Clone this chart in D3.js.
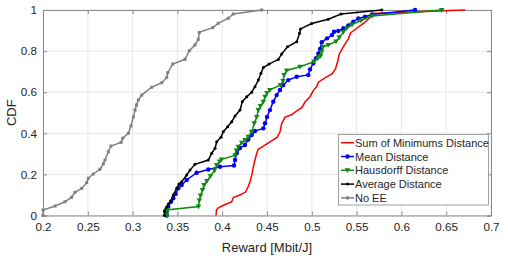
<!DOCTYPE html>
<html>
<head>
<meta charset="utf-8">
<script src="https://cdn.jsdelivr.net/npm/d3@7"></script>
<style>
  body { margin: 0; background: #fff; }
  text { font-family: "Liberation Sans", Arial, sans-serif; fill: #262626; }
</style>
</head>
<body>
<script>
const width = 508, height = 258

// one pair of arrays per curve
const sumMinX = [0.3931, 0.3936, 0.3953, 0.4020, 0.4104, 0.4126, 0.4199, 0.4260, 0.4294, 0.4316, 0.4333, 0.4350, 0.4366, 0.4383, 0.4400, 0.4455, 0.4533, 0.4612, 0.4645, 0.4662, 0.4701, 0.4768, 0.4832, 0.4891, 0.4924, 0.4980, 0.5017, 0.5058, 0.5075, 0.5158, 0.5225, 0.5265, 0.5287, 0.5307, 0.5331, 0.5371, 0.5410, 0.5432, 0.5499, 0.5583, 0.5644, 0.5667, 0.6710]
const sumMinY = [0, 0.027, 0.036, 0.051, 0.066, 0.088, 0.100, 0.114, 0.144, 0.173, 0.202, 0.241, 0.270, 0.299, 0.321, 0.336, 0.358, 0.380, 0.406, 0.445, 0.479, 0.489, 0.509, 0.526, 0.552, 0.578, 0.608, 0.630, 0.650, 0.672, 0.689, 0.715, 0.747, 0.786, 0.805, 0.835, 0.861, 0.888, 0.910, 0.937, 0.961, 0.983, 1.0]

const meanX = [0.3381, 0.3381, 0.3398, 0.3429, 0.3454, 0.3481, 0.3510, 0.3548, 0.3604, 0.3715, 0.3845, 0.3975, 0.4132, 0.4143, 0.4162, 0.4199, 0.4254, 0.4291, 0.4329, 0.4366, 0.4459, 0.4478, 0.4500, 0.4533, 0.4570, 0.4608, 0.4645, 0.4682, 0.4738, 0.4831, 0.4961, 0.4980, 0.5017, 0.5047, 0.5073, 0.5092, 0.5111, 0.5170, 0.5225, 0.5248, 0.5296, 0.5352, 0.5407, 0.5463, 0.5519, 0.5594, 0.5672, 0.6152]
const meanY = [0, 0.018, 0.043, 0.067, 0.084, 0.105, 0.132, 0.148, 0.173, 0.208, 0.224, 0.237, 0.243, 0.270, 0.303, 0.328, 0.343, 0.370, 0.392, 0.411, 0.424, 0.449, 0.479, 0.513, 0.554, 0.586, 0.611, 0.635, 0.659, 0.675, 0.684, 0.711, 0.741, 0.765, 0.789, 0.810, 0.843, 0.862, 0.878, 0.894, 0.898, 0.911, 0.925, 0.943, 0.959, 0.967, 0.978, 1.0]

const hausX = [0.3381, 0.3381, 0.3735, 0.3744, 0.3758, 0.3780, 0.3797, 0.3830, 0.3869, 0.3914, 0.3939, 0.3970, 0.3992, 0.4143, 0.4159, 0.4180, 0.4218, 0.4254, 0.4291, 0.4329, 0.4358, 0.4385, 0.4403, 0.4427, 0.4459, 0.4478, 0.4500, 0.4533, 0.4651, 0.4679, 0.4690, 0.4720, 0.4868, 0.5025, 0.5069, 0.5097, 0.5111, 0.5125, 0.5184, 0.5270, 0.5307, 0.5352, 0.5389, 0.5449, 0.5549, 0.5672, 0.6450]
const hausY = [0, 0.027, 0.044, 0.073, 0.097, 0.124, 0.148, 0.168, 0.192, 0.219, 0.246, 0.263, 0.273, 0.292, 0.316, 0.335, 0.354, 0.367, 0.383, 0.408, 0.449, 0.479, 0.513, 0.533, 0.554, 0.578, 0.596, 0.611, 0.635, 0.655, 0.684, 0.706, 0.724, 0.749, 0.765, 0.776, 0.797, 0.821, 0.830, 0.847, 0.867, 0.893, 0.911, 0.929, 0.949, 0.971, 1.0]

const avgX = [0.3354, 0.3354, 0.3378, 0.3398, 0.3429, 0.3454, 0.3492, 0.3518, 0.3548, 0.3604, 0.3641, 0.3696, 0.3845, 0.3883, 0.3920, 0.3939, 0.3987, 0.4012, 0.4061, 0.4106, 0.4143, 0.4199, 0.4224, 0.4274, 0.4329, 0.4366, 0.4403, 0.4433, 0.4459, 0.4522, 0.4626, 0.4664, 0.4729, 0.4832, 0.4863, 0.4874, 0.4999, 0.5184, 0.5326, 0.5780]
const avgY = [0, 0.022, 0.040, 0.056, 0.072, 0.100, 0.132, 0.153, 0.164, 0.197, 0.221, 0.249, 0.270, 0.303, 0.327, 0.359, 0.381, 0.408, 0.432, 0.456, 0.484, 0.513, 0.554, 0.578, 0.600, 0.627, 0.659, 0.692, 0.720, 0.737, 0.759, 0.786, 0.821, 0.846, 0.887, 0.908, 0.934, 0.955, 0.980, 1.0]

const noEeX = [0.200, 0.200, 0.2134, 0.2246, 0.2320, 0.2357, 0.2432, 0.2488, 0.2506, 0.2561, 0.2636, 0.2673, 0.2692, 0.2729, 0.2759, 0.2871, 0.2890, 0.2952, 0.2982, 0.3008, 0.3027, 0.3044, 0.3064, 0.3102, 0.3213, 0.3325, 0.3381, 0.3392, 0.3448, 0.3585, 0.3633, 0.3696, 0.3733, 0.3744, 0.3894, 0.3956, 0.4068, 0.4124, 0.4441]
const noEeY = [0, 0.027, 0.046, 0.067, 0.089, 0.113, 0.132, 0.160, 0.181, 0.202, 0.225, 0.251, 0.270, 0.310, 0.338, 0.356, 0.376, 0.400, 0.436, 0.479, 0.513, 0.538, 0.562, 0.586, 0.624, 0.646, 0.672, 0.695, 0.737, 0.760, 0.802, 0.830, 0.857, 0.891, 0.914, 0.935, 0.960, 0.981, 1.0]

const xTicks = [0.2, 0.25, 0.3, 0.35, 0.4, 0.45, 0.5, 0.55, 0.6, 0.65, 0.7]
const yTicks = [0, 0.2, 0.4, 0.6, 0.8, 1]

const series = [
  { name: 'Sum of Minimums Distance', xs: sumMinX, ys: sumMinY, color: '#ff0000', marker: 'none' },
  { name: 'Mean Distance', xs: meanX, ys: meanY, color: '#0000ff', marker: 'circle' },
  { name: 'Hausdorff Distance', xs: hausX, ys: hausY, color: '#108a10', marker: 'tri' },
  { name: 'Average Distance', xs: avgX, ys: avgY, color: '#000000', marker: 'dot' },
  { name: 'No EE', xs: noEeX, ys: noEeY, color: '#808080', marker: 'square' }
]

const margin = { left: 43, right: 17, top: 10, bottom: 42.5 }
const pw = width - margin.left - margin.right
const ph = height - margin.top - margin.bottom

const svg = d3.select('body').append('svg')
  .attr('width', width)
  .attr('height', height)

const g = svg.append('g').attr('transform', `translate(${margin.left},${margin.top})`)

const xScale = d3.scaleLinear().domain([0.2, 0.7]).range([0, pw])
const yScale = d3.scaleLinear().domain([0, 1]).range([ph, 0])

// grid
g.append('g').selectAll('line').data(xTicks).join('line')
  .attr('x1', d => xScale(d)).attr('x2', d => xScale(d))
  .attr('y1', 0).attr('y2', ph)
  .attr('stroke', '#e8e8e8')
g.append('g').selectAll('line').data(yTicks).join('line')
  .attr('y1', d => yScale(d)).attr('y2', d => yScale(d))
  .attr('x1', 0).attr('x2', pw)
  .attr('stroke', '#e8e8e8')

// axes
const xAxis = d3.axisBottom(xScale).tickValues(xTicks).tickSize(-4).tickPadding(7).tickFormat(d3.format('~g'))
const yAxis = d3.axisLeft(yScale).tickValues(yTicks).tickSize(-4).tickPadding(6).tickFormat(d3.format('~g'))

g.append('g').attr('transform', `translate(0,${ph})`).call(xAxis)
g.append('g').call(yAxis)
g.append('g').call(d3.axisTop(xScale).tickValues(xTicks).tickSize(-4).tickFormat(''))
g.append('g').attr('transform', `translate(${pw},0)`).call(d3.axisRight(yScale).tickValues(yTicks).tickSize(-4).tickFormat(''))

g.selectAll('.domain').attr('stroke', '#8a8a8a')
g.selectAll('.tick line').attr('stroke', '#8a8a8a')
g.selectAll('.tick text').style('font-size', '11.7px').attr('fill', '#262626')

// curves
const line = d3.line().x(d => xScale(d[0])).y(d => yScale(d[1]))

series.forEach(s => {
  const pts = s.xs.map((x, i) => [x, s.ys[i]])
  g.append('path').datum(pts)
    .attr('d', line)
    .attr('fill', 'none')
    .attr('stroke', s.color)
    .attr('stroke-width', 1.5)
  drawMarkers(g, pts.map(p => [xScale(p[0]), yScale(p[1])]), s)
})

function drawMarkers(sel, pxs, s) {
  if (s.marker === 'circle') {
    sel.append('g').selectAll('circle').data(pxs).join('circle')
      .attr('cx', d => d[0]).attr('cy', d => d[1]).attr('r', 2.2)
      .attr('fill', s.color)
  } else if (s.marker === 'dot') {
    sel.append('g').selectAll('circle').data(pxs).join('circle')
      .attr('cx', d => d[0]).attr('cy', d => d[1]).attr('r', 1.5)
      .attr('fill', s.color)
  } else if (s.marker === 'square') {
    sel.append('g').selectAll('rect').data(pxs).join('rect')
      .attr('x', d => d[0] - 1.5).attr('y', d => d[1] - 1.5)
      .attr('width', 3).attr('height', 3)
      .attr('fill', s.color)
  } else if (s.marker === 'tri') {
    sel.append('g').selectAll('path').data(pxs).join('path')
      .attr('d', d => `M${d[0] - 2.8},${d[1] - 2}L${d[0] + 2.8},${d[1] - 2}L${d[0]},${d[1] + 2.8}Z`)
      .attr('fill', s.color)
  }
}

// axis labels
svg.append('text')
  .attr('x', margin.left + pw / 2).attr('y', 252)
  .attr('text-anchor', 'middle')
  .style('font-size', '13px')
  .text('Reward [Mbit/J]')

svg.append('text')
  .attr('transform', `translate(16,${margin.top + ph / 2}) rotate(-90)`)
  .attr('text-anchor', 'middle')
  .style('font-size', '13px')
  .text('CDF')

// legend
const lg = svg.append('g').attr('transform', 'translate(338.5,134.5)')
lg.append('rect')
  .attr('width', 150).attr('height', 70.5)
  .attr('fill', '#fff')
  .attr('stroke', '#8a8a8a')
  .attr('stroke-width', 0.8)

series.forEach((s, i) => {
  const yy = 8.2 + i * 13.8
  const row = lg.append('g')
  row.append('line')
    .attr('x1', 2.5).attr('x2', 15.5)
    .attr('y1', yy).attr('y2', yy)
    .attr('stroke', s.color).attr('stroke-width', 1.5)
  drawMarkers(row, s.marker === 'none' ? [] : [[9, yy]], s)
  row.append('text')
    .attr('x', 16.5).attr('y', yy + 4)
    .style('font-size', '11px')
    .text(s.name)
})
</script>
</body>
</html>
